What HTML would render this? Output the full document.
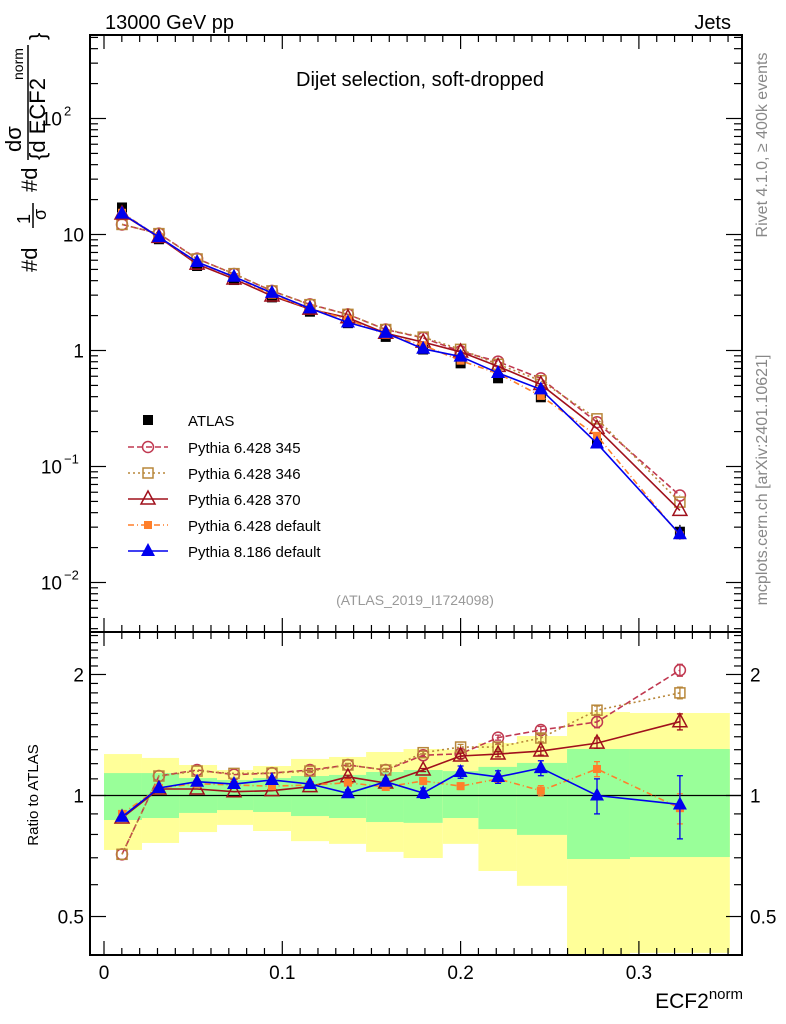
<!DOCTYPE html>
<html><head><meta charset="utf-8"><style>
body{margin:0;background:#fff;}
svg{display:block;font-family:"Liberation Sans",sans-serif;}
</style></head><body>
<svg id="chart" width="786" height="1024" viewBox="0 0 786 1024" xmlns="http://www.w3.org/2000/svg">
<g id="bands"></g>
<g id="grid"></g>
<g id="series"></g>
<g id="frames"></g>
<text x="105" y="29" font-size="20">13000 GeV pp</text>
<text x="731" y="29" font-size="20" text-anchor="end">Jets</text>
<text x="420" y="86" font-size="20" text-anchor="middle">Dijet selection, soft-dropped</text>
<text x="415" y="605" font-size="14" fill="#999" text-anchor="middle">(ATLAS_2019_I1724098)</text>
<text transform="translate(767,145) rotate(-90)" font-size="16" fill="#888" text-anchor="middle">Rivet 4.1.0, ≥ 400k events</text>
<text transform="translate(767,480) rotate(-90)" font-size="16" fill="#888" text-anchor="middle">mcplots.cern.ch [arXiv:2401.10621]</text>
<g font-size="22">
<text transform="translate(37,272) rotate(-90)">#d</text>
<text transform="translate(30,224) rotate(-90)" font-size="18">1</text>
<line x1="33" y1="203" x2="33" y2="228" stroke="#000" stroke-width="1.5"/>
<text transform="translate(46,220) rotate(-90)" font-size="18">σ</text>
<text transform="translate(37,192) rotate(-90)">#d</text>
<text transform="translate(21,152) rotate(-90)">dσ</text>
<line x1="28" y1="45" x2="28" y2="160" stroke="#000" stroke-width="1.5"/>
<text transform="translate(45,160) rotate(-90)">{d ECF2</text>
<text transform="translate(23,80) rotate(-90)" font-size="14">norm</text>
<text transform="translate(45,40) rotate(-90)">}</text>
</g>
<text transform="translate(38,795) rotate(-90)" font-size="15" text-anchor="middle">Ratio to ATLAS</text>
<text x="743" y="1008" font-size="21" text-anchor="end">ECF2<tspan dy="-9" font-size="15">norm</tspan></text>
<g id="legend"></g>
</svg>
<script>
// ---- data ----
const binEdges = [0, 0.0213, 0.0421, 0.0634, 0.0836, 0.1049, 0.1262, 0.147, 0.168, 0.19, 0.21, 0.2316, 0.2597, 0.295, 0.351];
const binCenters = [0.0101, 0.0308, 0.0522, 0.0729, 0.0942, 0.1155, 0.1368, 0.158, 0.179, 0.2, 0.221, 0.245, 0.2765, 0.323];
const atlasValues = [17.1, 9.1, 5.35, 4.05, 2.87, 2.16, 1.72, 1.31, 1.02, 0.775, 0.576, 0.395, 0.158, 0.0274];
const atlasErr = [0.3, 0.1, 0.05, 0.04, 0.03, 0.02, 0.02, 0.02, 0.02, 0.015, 0.012, 0.01, 0.006, 0.004];
const bandYellowHi = [1.268, 1.240, 1.191, 1.157, 1.184, 1.233, 1.247, 1.283, 1.305, 1.30, 1.351, 1.406, 1.613, 1.604];
const bandGreenHi = [1.137, 1.137, 1.105, 1.093, 1.105, 1.118, 1.125, 1.144, 1.157, 1.15, 1.178, 1.205, 1.305, 1.305];
const bandGreenLo = [0.869, 0.879, 0.905, 0.920, 0.910, 0.889, 0.879, 0.859, 0.855, 0.879, 0.825, 0.798, 0.695, 0.703];
const bandYellowLo = [0.732, 0.762, 0.811, 0.845, 0.816, 0.770, 0.758, 0.724, 0.699, 0.758, 0.649, 0.596, 0.30, 0.406];
const ratio345 = [0.714, 1.118, 1.157, 1.127, 1.137, 1.157, 1.191, 1.157, 1.259, 1.27, 1.393, 1.455, 1.524, 2.05];
const ratio346 = [0.714, 1.118, 1.15, 1.135, 1.137, 1.15, 1.191, 1.157, 1.278, 1.32, 1.32, 1.39, 1.63, 1.80];
const ratio370 = [0.879, 1.038, 1.038, 1.022, 1.028, 1.052, 1.113, 1.074, 1.157, 1.254, 1.268, 1.29, 1.35, 1.526];
const ratioDef6 = [0.9, 1.044, 1.07, 1.062, 1.055, 1.062, 1.076, 1.05, 1.087, 1.055, 1.10, 1.028, 1.164, 0.93];
const ratioDef8 = [0.885, 1.044, 1.082, 1.068, 1.093, 1.068, 1.013, 1.082, 1.014, 1.144, 1.112, 1.17, 1.0, 0.95];
const err345 = [0, 0, 0, 0, 0, 0.01, 0.01, 0.01, 0.01, 0.02, 0.02, 0.03, 0.05, 0.07];
const err346 = [0, 0, 0, 0, 0, 0.01, 0.01, 0.01, 0.01, 0.02, 0.02, 0.03, 0.04, 0.06];
const err370 = [0, 0, 0, 0, 0, 0.01, 0.01, 0.01, 0.01, 0.02, 0.02, 0.03, 0.04, 0.07];
const errDef6 = [0, 0, 0, 0, 0, 0.01, 0.01, 0.01, 0.02, 0.02, 0.02, 0.03, 0.05, 0.08];
const errDef8 = [0, 0, 0, 0.01, 0.01, 0.01, 0.02, 0.02, 0.03, 0.04, 0.04, 0.05, 0.1, 0.17];
const xTicks = [0, 0.1, 0.2, 0.3];
const xTickLabels = ["0", "0.1", "0.2", "0.3"];
const mainDecades = [-2, -1, 0, 1, 2];
const mainTickLabels = ["10", "10", "1", "10", "10"];
const mainTickExp = ["−2", "−1", "", "", "2"];
const ratioMajor = [0.5, 1, 2];
const ratioLabels = ["0.5", "1", "2"];
const legendLabels = ["ATLAS", "Pythia 6.428 345", "Pythia 6.428 346", "Pythia 6.428 370", "Pythia 6.428 default", "Pythia 8.186 default"];

// ---- scales ----
const L = 90, R = 742, MT = 35, MB = 632, RT = 632, RB = 955;
const xs = v => 104 + v * 1783;
const ys = v => 350.5 - 116 * Math.log10(v);
const rs = r => 795.5 - 402 * Math.log10(r);
const NS = "http://www.w3.org/2000/svg";
function mk(parent, tag, attrs) {
  const e = document.createElementNS(NS, tag);
  for (const k in attrs) e.setAttribute(k, attrs[k]);
  parent.appendChild(e);
  return e;
}
const gB = document.getElementById('bands'), gG = document.getElementById('grid'),
      gS = document.getElementById('series'), gF = document.getElementById('frames'),
      gL = document.getElementById('legend');

// bands
for (let i = 0; i < binCenters.length; i++) {
  const x0 = Math.max(xs(binEdges[i]), L + 1), x1 = xs(binEdges[i + 1]);
  const yh = rs(bandYellowHi[i]), yl = Math.min(rs(bandYellowLo[i]), RB);
  let e = mk(gB, 'rect', {x: x0, y: yh, width: x1 - x0, height: yl - yh, fill: '#ffff99'});
  
  
  const gh = rs(bandGreenHi[i]), gl = rs(bandGreenLo[i]);
  e = mk(gB, 'rect', {x: x0, y: gh, width: x1 - x0, height: gl - gh, fill: '#99ff99'});
  
  
}
let unity = mk(gG, 'line', {x1: L, x2: R, y1: rs(1), y2: rs(1), stroke: '#000', 'stroke-width': 1.3});



// frames and ticks
function frame(y0, y1, name) {
  const r = mk(gF, 'rect', {x: L, y: y0, width: R - L, height: y1 - y0, fill: 'none', stroke: '#000', 'stroke-width': 2});
  
  
}
frame(MT, MB, 'main-plot-frame');
frame(RT, RB, 'ratio-plot-frame');
function tick(x1, y1, x2, y2) { mk(gF, 'line', {x1, y1, x2, y2, stroke: '#000', 'stroke-width': 1.2}); }
for (let k = 0; k <= 35; k++) {
  const v = k / 100, x = xs(v), len = (k % 10 === 0) ? 14 : 7;
  if (x < L || x > R) continue;
  tick(x, MT, x, MT + len); tick(x, MB, x, MB - len);
  tick(x, RT, x, RT + len); tick(x, RB, x, RB - len);
}
xTicks.forEach((v, i) => {
  const t = mk(gF, 'text', {x: xs(v), y: 979, 'font-size': 19, 'text-anchor': 'middle'});
  t.textContent = xTickLabels[i];
  
  
});
for (let d = -3; d <= 2; d++) {
  for (let m = 1; m <= 9; m++) {
    const y = ys(m * Math.pow(10, d));
    if (y < MT || y > MB) continue;
    const len = m === 1 ? 16 : 8;
    tick(L, y, L + len, y); tick(R, y, R - len, y);
  }
}
mainDecades.forEach((d, i) => {
  const y = ys(Math.pow(10, d));
  const t = mk(gF, 'text', {x: mainTickExp[i] ? 62 : 84, y: y + 7, 'font-size': 19, 'text-anchor': 'end'});
  t.textContent = mainTickLabels[i];
  
  
  if (mainTickExp[i]) {
    const s = mk(gF, 'text', {x: 64, y: y - 3, 'font-size': 13});
    s.textContent = mainTickExp[i];
  }
});
for (let k = 4; k <= 25; k++) {
  const r = k / 10, y = rs(r);
  if (y < RT || y > RB) continue;
  const len = (k === 5 || k === 10 || k === 20) ? 16 : 8;
  tick(L, y, L + len, y); tick(R, y, R - len, y);
}
ratioMajor.forEach((r, i) => {
  const y = rs(r) + 7;
  let t = mk(gF, 'text', {x: 84, y, 'font-size': 19, 'text-anchor': 'end'});
  t.textContent = ratioLabels[i];
  
  
  t = mk(gF, 'text', {x: 750, y, 'font-size': 19});
  t.textContent = ratioLabels[i];
  
  
});

// markers
function marker(g, type, x, y, color) {
  if (type === 'sq-fill') return mk(g, 'rect', {x: x - 5, y: y - 5, width: 10, height: 10, fill: color});
  if (type === 'sq-small') return mk(g, 'rect', {x: x - 4, y: y - 4, width: 8, height: 8, fill: color});
  if (type === 'sq-open') return mk(g, 'rect', {x: x - 5, y: y - 5, width: 10, height: 10, fill: 'none', stroke: color, 'stroke-width': 1.5});
  if (type === 'circ') return mk(g, 'circle', {cx: x, cy: y, r: 5.5, fill: 'none', stroke: color, 'stroke-width': 1.5});
  if (type === 'tri-open') return mk(g, 'path', {d: `M${x} ${y - 8}L${x + 7} ${y + 5}L${x - 7} ${y + 5}Z`, fill: 'none', stroke: color, 'stroke-width': 1.5});
  return mk(g, 'path', {d: `M${x} ${y - 8}L${x + 7} ${y + 5}L${x - 7} ${y + 5}Z`, fill: color});
}
const series = [
  {name: 'pythia-6428-345', ratio: ratio345, err: err345, color: '#c03850', dash: '6,3', marker: 'circ'},
  {name: 'pythia-6428-346', ratio: ratio346, err: err346, color: '#b8873a', dash: '2,3', marker: 'sq-open'},
  {name: 'pythia-6428-370', ratio: ratio370, err: err370, color: '#a0101c', dash: '', marker: 'tri-open'},
  {name: 'pythia-6428-default', ratio: ratioDef6, err: errDef6, color: '#ff7f2a', dash: '6,3,1,3', marker: 'sq-small'},
  {name: 'pythia-8186-default', ratio: ratioDef8, err: errDef8, color: '#0000ee', dash: '', marker: 'tri-fill'}
];

// ATLAS main
const gA = mk(gS, 'g', {});


binCenters.forEach((c, i) => {
  const x = xs(c), y = ys(atlasValues[i]);
  mk(gA, 'line', {x1: x, x2: x, y1: ys(atlasValues[i] + atlasErr[i]), y2: ys(Math.max(atlasValues[i] - atlasErr[i], 1e-4)), stroke: '#000', 'stroke-width': 1.3});
  const m = marker(gA, 'sq-fill', x, y, '#000');
  
  
});

series.forEach(s => {
  const gm = mk(gS, 'g', {});
  
  
  const gr = mk(gS, 'g', {});
  
  
  const mainPts = binCenters.map((c, i) => [xs(c), ys(atlasValues[i] * s.ratio[i])]);
  const ratPts = binCenters.map((c, i) => [xs(c), rs(s.ratio[i])]);
  const la = {fill: 'none', stroke: s.color, 'stroke-width': 1.6};
  if (s.dash) la['stroke-dasharray'] = s.dash;
  mk(gm, 'polyline', Object.assign({points: mainPts.map(p => p.join(',')).join(' ')}, la));
  mk(gr, 'polyline', Object.assign({points: ratPts.map(p => p.join(',')).join(' ')}, la));
  binCenters.forEach((c, i) => {
    const x = xs(c);
    if (s.err[i] > 0) {
      const r = s.ratio[i];
      mk(gr, 'line', {x1: x, x2: x, y1: rs(r + s.err[i]), y2: rs(r - s.err[i]), stroke: s.color, 'stroke-width': 1.3});
      mk(gr, 'line', {x1: x - 3, x2: x + 3, y1: rs(r + s.err[i]), y2: rs(r + s.err[i]), stroke: s.color, 'stroke-width': 1.3});
      mk(gr, 'line', {x1: x - 3, x2: x + 3, y1: rs(r - s.err[i]), y2: rs(r - s.err[i]), stroke: s.color, 'stroke-width': 1.3});
    }
    let m = marker(gm, s.marker, mainPts[i][0], mainPts[i][1], s.color);
    
    
    m = marker(gr, s.marker, ratPts[i][0], ratPts[i][1], s.color);
    
    
  });
});

// legend
const legY = [420, 447, 473, 499, 525, 551];
legendLabels.forEach((lab, i) => {
  const g = mk(gL, 'g', {});
  
  
  const y = legY[i];
  if (i === 0) {
    marker(g, 'sq-fill', 148, y, '#000');
  } else {
    const s = series[i - 1];
    const la = {x1: 128, x2: 168, y1: y, y2: y, stroke: s.color, 'stroke-width': 1.6};
    if (s.dash) la['stroke-dasharray'] = s.dash;
    mk(g, 'line', la);
    marker(g, s.marker, 148, y, s.color);
  }
  const t = mk(g, 'text', {x: 188, y: y + 6, 'font-size': 15});
  t.textContent = lab;
});
</script>
</body></html>
